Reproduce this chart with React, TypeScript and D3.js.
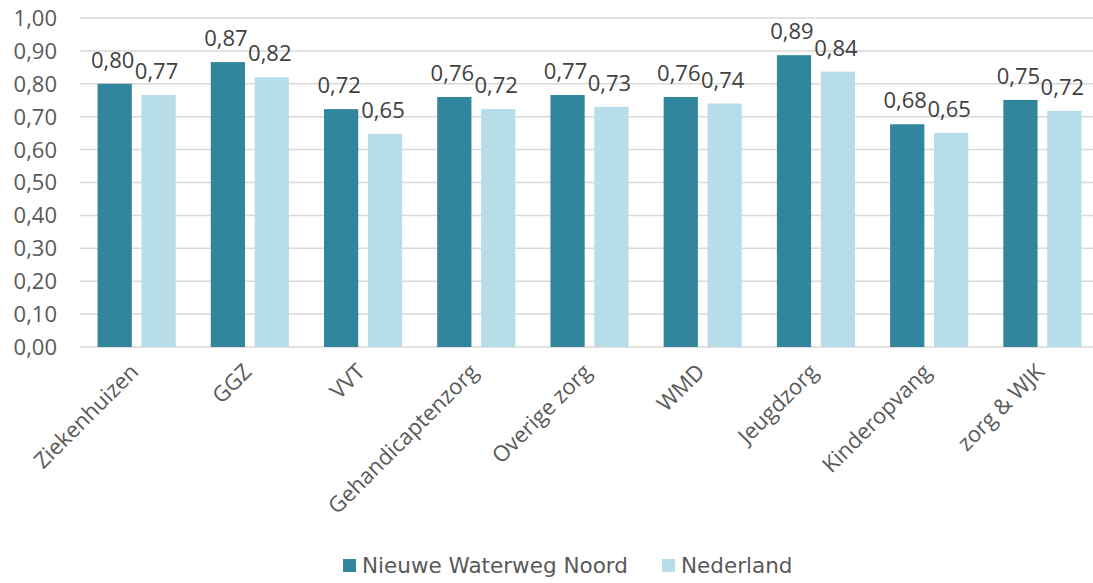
import React, { useEffect, useRef } from 'react';
import * as d3 from 'd3';

const categories = [
  'Ziekenhuizen',
  'GGZ',
  'VVT',
  'Gehandicaptenzorg',
  'Overige zorg',
  'WMD',
  'Jeugdzorg',
  'Kinderopvang',
  'zorg & WJK',
];
const seriesNames = ['Nieuwe Waterweg Noord', 'Nederland'];
const nwnValues = [0.8, 0.866, 0.723, 0.76, 0.766, 0.76, 0.887, 0.677, 0.751];
const nlValues = [0.766, 0.82, 0.648, 0.723, 0.73, 0.74, 0.837, 0.651, 0.718];
const yTicks = [0, 0.1, 0.2, 0.3, 0.4, 0.5, 0.6, 0.7, 0.8, 0.9, 1.0];
const colors = ['#31859c', '#b7dde8'];

const fmt = (v: number) => v.toFixed(2).replace('.', ',');

const App: React.FC = () => {
  const svgRef = useRef<SVGSVGElement | null>(null);

  useEffect(() => {
    if (!svgRef.current) return;
    const width = 1093;
    const height = 583;
    const margin = { top: 18, right: -6, bottom: 236, left: 80 };
    const innerW = width - margin.left - margin.right;
    const innerH = height - margin.top - margin.bottom;
    const font = '"Open Sans", "Noto Sans", sans-serif';
    const legendFont = '"DejaVu Sans", Verdana, sans-serif';

    const svg = d3.select(svgRef.current);
    svg.selectAll('*').remove();
    const g = svg.append('g').attr('transform', `translate(${margin.left},${margin.top})`);

    const x0 = d3.scaleBand<string>().domain(categories).range([0, innerW]).paddingInner(0.31).paddingOuter(0.155);
    const x1 = d3.scaleBand<string>().domain(seriesNames).range([0, x0.bandwidth()]).paddingInner(0.22);
    const y = d3.scaleLinear().domain([0, 1]).range([innerH, 0]);

    // gridlines
    g.append('g')
      .selectAll('line')
      .data(yTicks)
      .join('line')
      .attr('x1', 0)
      .attr('x2', innerW)
      .attr('y1', d => y(d))
      .attr('y2', d => y(d))
      .attr('stroke', '#d9d9d9')
      .attr('stroke-width', 1.5);

    // y labels
    g.append('g')
      .selectAll('text')
      .data(yTicks)
      .join('text')
      .attr('x', -23)
      .attr('y', d => y(d))
      .attr('dy', '0.36em')
      .attr('text-anchor', 'end')
      .attr('font-family', font)
      .attr('font-size', 22)
      .attr('fill', '#595959')
      .text(d => fmt(d));

    const series = [nwnValues, nlValues];
    series.forEach((vals, si) => {
      const name = seriesNames[si];
      g.append('g')
        .selectAll('rect')
        .data(vals)
        .join('rect')
        .attr('x', (_, i) => x0(categories[i])! + x1(name)!)
        .attr('y', d => y(d))
        .attr('width', x1.bandwidth())
        .attr('height', d => innerH - y(d))
        .attr('fill', colors[si]);
      g.append('g')
        .selectAll('text')
        .data(vals)
        .join('text')
        .attr('x', (_, i) => x0(categories[i])! + x1(name)! + x1.bandwidth() / 2 - 2)
        .attr('y', d => y(d) - 16)
        .attr('text-anchor', 'middle')
        .attr('font-family', font)
        .attr('font-size', 22)
        .attr('fill', '#404040')
        .text(d => fmt(d));
    });

    // category labels
    g.append('g')
      .selectAll('text')
      .data(categories)
      .join('text')
      .attr('transform', d => `translate(${x0(d)! + x0.bandwidth() / 2 - 8},${innerH + 15}) rotate(-45)`)
      .attr('text-anchor', 'end')
      .attr('dy', '0.72em')
      .attr('font-family', font)
      .attr('font-size', 22)
      .attr('fill', '#595959')
      .text(d => d);

    // legend
    const legend = svg.append('g').attr('transform', `translate(0,${height - 10})`);
    const legendX = [343, 662];
    seriesNames.forEach((n, i) => {
      legend
        .append('rect')
        .attr('x', legendX[i])
        .attr('y', -14)
        .attr('width', 13)
        .attr('height', 13)
        .attr('fill', colors[i]);
      legend
        .append('text')
        .attr('x', legendX[i] + 19)
        .attr('y', 0)
        .attr('font-family', legendFont)
        .attr('font-size', 21.5)
        .attr('fill', '#595959')
        .text(n);
    });
  }, []);

  return (
    <svg
      ref={svgRef}
      width={1093}
      height={583}
      style={{ position: 'absolute', left: 0, top: 0, display: 'block', background: '#fff' }}
    />
  );
};

export default App;
